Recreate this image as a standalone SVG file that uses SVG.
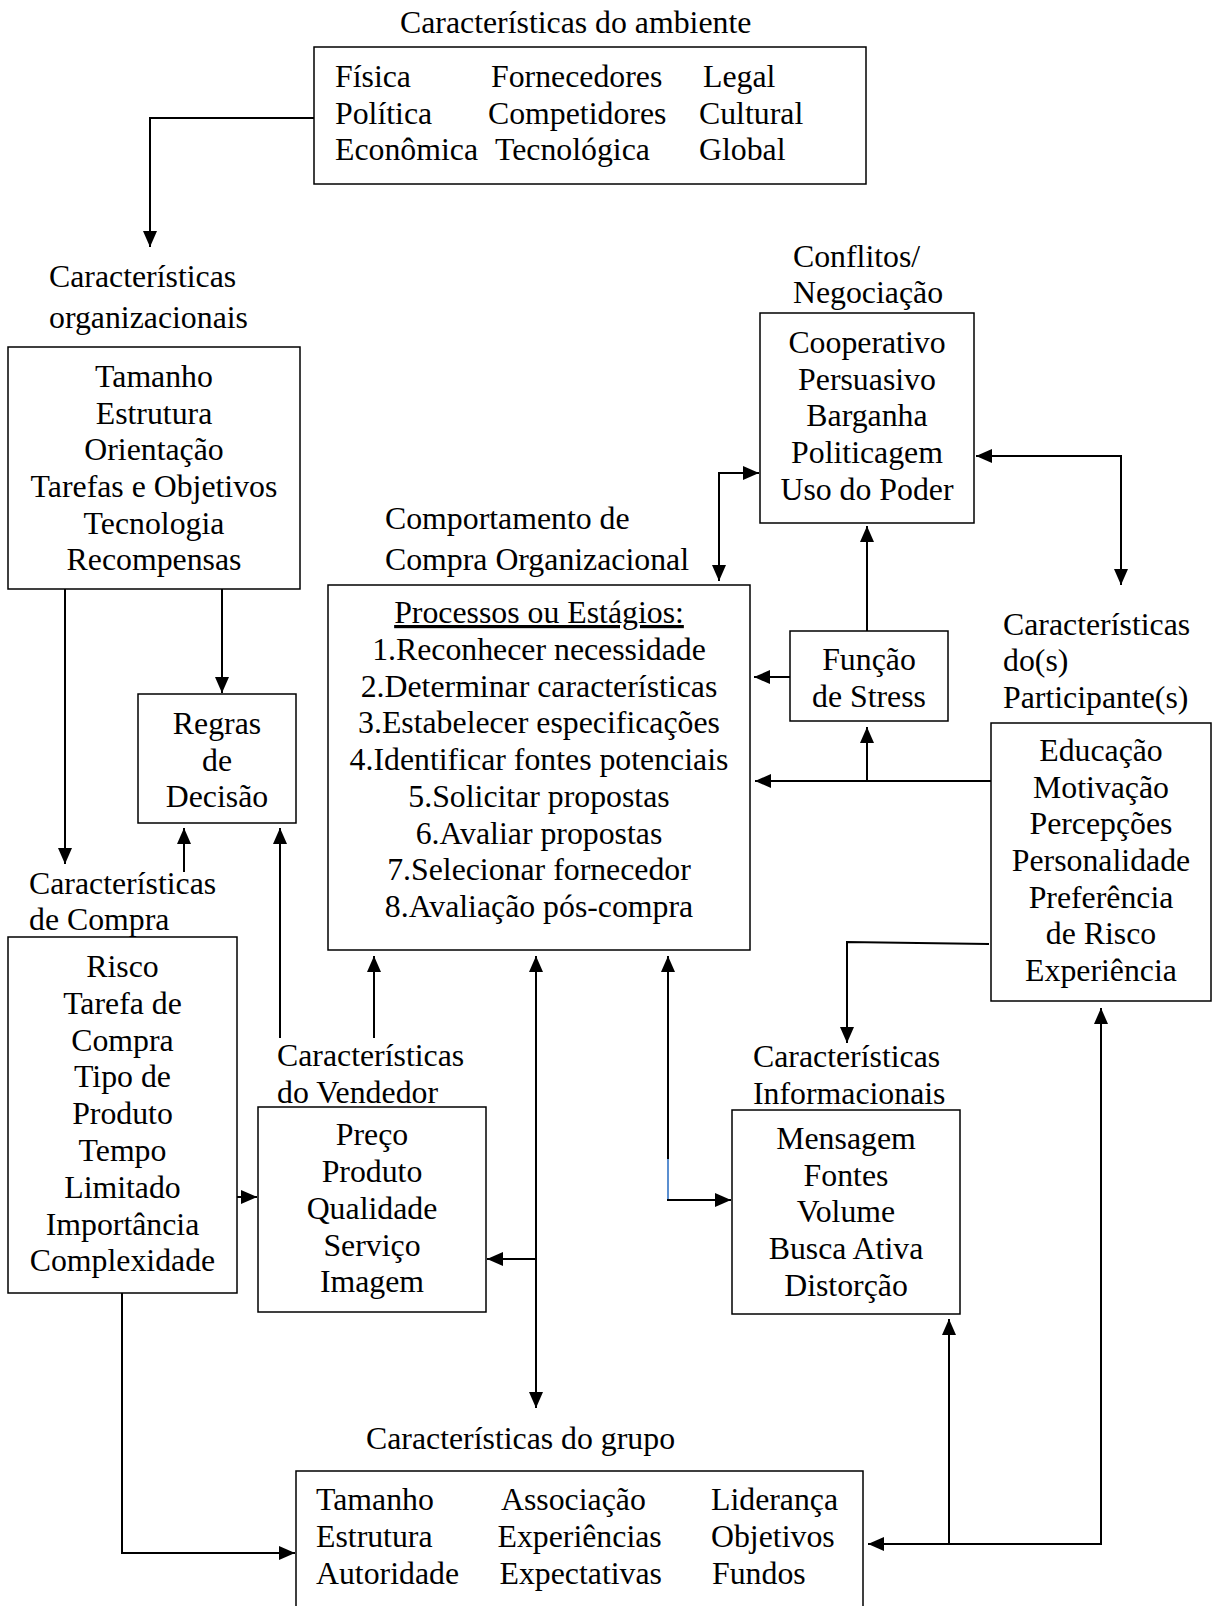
<svg xmlns="http://www.w3.org/2000/svg" width="1212" height="1606" viewBox="0 0 1212 1606">
<style>
.t{font-family:"Liberation Serif","Times New Roman",serif;font-size:31.8px;fill:#000}
.c{text-anchor:middle}
.box{fill:none;stroke:#000;stroke-width:1.5}
.ln{fill:none;stroke:#000;stroke-width:2}
</style>
<defs>
<marker id="ah" markerWidth="16" markerHeight="14" refX="16" refY="7" orient="auto-start-reverse" markerUnits="userSpaceOnUse"><path d="M0,0 L16,7 L0,14 z" fill="#000"/></marker>
</defs>
<rect width="1212" height="1606" fill="#fff"/>

<g id="ambiente">
<text class="t" x="400" y="33">Características do ambiente</text>
<rect class="box" x="314" y="47" width="552" height="137"/>
<text class="t" x="335" y="87">Física</text>
<text class="t" x="335" y="124">Política</text>
<text class="t" x="335" y="160">Econômica</text>
<text class="t" x="491" y="87">Fornecedores</text>
<text class="t" x="488" y="124">Competidores</text>
<text class="t" x="495" y="160">Tecnológica</text>
<text class="t" x="703" y="87">Legal</text>
<text class="t" x="699" y="124">Cultural</text>
<text class="t" x="699" y="160">Global</text>
</g>

<g id="organizacionais">
<text class="t" x="49" y="287">Características</text>
<text class="t" x="49" y="328">organizacionais</text>
<rect class="box" x="8" y="347" width="292" height="242"/>
<text class="t c" x="154" y="387">Tamanho</text>
<text class="t c" x="154" y="424">Estrutura</text>
<text class="t c" x="154" y="460">Orientação</text>
<text class="t c" x="154" y="497">Tarefas e Objetivos</text>
<text class="t c" x="154" y="534">Tecnologia</text>
<text class="t c" x="154" y="570">Recompensas</text>
</g>

<g id="regras">
<rect class="box" x="138" y="694" width="158" height="129"/>
<text class="t c" x="217" y="734">Regras</text>
<text class="t c" x="217" y="771">de</text>
<text class="t c" x="217" y="807">Decisão</text>
</g>

<g id="comportamento">
<text class="t" x="385" y="529">Comportamento de</text>
<text class="t" x="385" y="570">Compra Organizacional</text>
<rect class="box" x="328" y="585" width="422" height="365"/>
<text class="t c" x="539" y="623" text-decoration="underline">Processos ou Estágios:</text>
<text class="t c" x="539" y="660">1.Reconhecer necessidade</text>
<text class="t c" x="539" y="697">2.Determinar características</text>
<text class="t c" x="539" y="733">3.Estabelecer especificações</text>
<text class="t c" x="539" y="770">4.Identificar fontes potenciais</text>
<text class="t c" x="539" y="807">5.Solicitar propostas</text>
<text class="t c" x="539" y="844">6.Avaliar propostas</text>
<text class="t c" x="539" y="880">7.Selecionar fornecedor</text>
<text class="t c" x="539" y="917">8.Avaliação pós-compra</text>
</g>

<g id="conflitos">
<text class="t" x="793" y="267">Conflitos/</text>
<text class="t" x="793" y="303">Negociação</text>
<rect class="box" x="760" y="313" width="214" height="210"/>
<text class="t c" x="867" y="353">Cooperativo</text>
<text class="t c" x="867" y="390">Persuasivo</text>
<text class="t c" x="867" y="426">Barganha</text>
<text class="t c" x="867" y="463">Politicagem</text>
<text class="t c" x="867" y="500">Uso do Poder</text>
</g>

<g id="stress">
<rect class="box" x="790" y="631" width="158" height="90"/>
<text class="t c" x="869" y="670">Função</text>
<text class="t c" x="869" y="707">de Stress</text>
</g>

<g id="participantes">
<text class="t" x="1003" y="635">Características</text>
<text class="t" x="1003" y="671">do(s)</text>
<text class="t" x="1003" y="708">Participante(s)</text>
<rect class="box" x="991" y="723" width="220" height="278"/>
<text class="t c" x="1101" y="761">Educação</text>
<text class="t c" x="1101" y="798">Motivação</text>
<text class="t c" x="1101" y="834">Percepções</text>
<text class="t c" x="1101" y="871">Personalidade</text>
<text class="t c" x="1101" y="908">Preferência</text>
<text class="t c" x="1101" y="944">de Risco</text>
<text class="t c" x="1101" y="981">Experiência</text>
</g>

<g id="compra">
<text class="t" x="29" y="894">Características</text>
<text class="t" x="29" y="930">de Compra</text>
<rect class="box" x="8" y="937" width="229" height="356"/>
<text class="t c" x="122.5" y="977">Risco</text>
<text class="t c" x="122.5" y="1014">Tarefa de</text>
<text class="t c" x="122.5" y="1051">Compra</text>
<text class="t c" x="122.5" y="1087">Tipo de</text>
<text class="t c" x="122.5" y="1124">Produto</text>
<text class="t c" x="122.5" y="1161">Tempo</text>
<text class="t c" x="122.5" y="1198">Limitado</text>
<text class="t c" x="122.5" y="1235">Importância</text>
<text class="t c" x="122.5" y="1271">Complexidade</text>
</g>

<g id="vendedor">
<text class="t" x="277" y="1066">Características</text>
<text class="t" x="277" y="1103">do Vendedor</text>
<rect class="box" x="258" y="1107" width="228" height="205"/>
<text class="t c" x="372" y="1145">Preço</text>
<text class="t c" x="372" y="1182">Produto</text>
<text class="t c" x="372" y="1219">Qualidade</text>
<text class="t c" x="372" y="1256">Serviço</text>
<text class="t c" x="372" y="1292">Imagem</text>
</g>

<g id="informacionais">
<text class="t" x="753" y="1067">Características</text>
<text class="t" x="753" y="1104">Informacionais</text>
<rect class="box" x="732" y="1110" width="228" height="204"/>
<text class="t c" x="846" y="1149">Mensagem</text>
<text class="t c" x="846" y="1186">Fontes</text>
<text class="t c" x="846" y="1222">Volume</text>
<text class="t c" x="846" y="1259">Busca Ativa</text>
<text class="t c" x="846" y="1296">Distorção</text>
</g>

<g id="grupo">
<text class="t" x="366" y="1449">Características do grupo</text>
<rect class="box" x="296" y="1471" width="567" height="150"/>
<text class="t" x="316" y="1510">Tamanho</text>
<text class="t" x="316" y="1547">Estrutura</text>
<text class="t" x="316" y="1584">Autoridade</text>
<text class="t" x="501" y="1510">Associação</text>
<text class="t" x="497.5" y="1547">Experiências</text>
<text class="t" x="499.5" y="1584">Expectativas</text>
<text class="t" x="711" y="1510">Liderança</text>
<text class="t" x="711" y="1547">Objetivos</text>
<text class="t" x="712" y="1584">Fundos</text>
</g>

<g id="connectors">
<path class="ln" d="M314,118 H150 V247" marker-end="url(#ah)"/>
<path class="ln" d="M65,589 V864" marker-end="url(#ah)"/>
<path class="ln" d="M222,589 V693" marker-end="url(#ah)"/>
<path class="ln" d="M184,872 V828" marker-end="url(#ah)"/>
<path class="ln" d="M280,1038 V828" marker-end="url(#ah)"/>
<path class="ln" d="M374,1038 V956" marker-end="url(#ah)"/>
<path class="ln" d="M237,1197 H257" marker-end="url(#ah)"/>
<path class="ln" d="M536,956 V1408" marker-start="url(#ah)" marker-end="url(#ah)"/>
<path class="ln" d="M536,1259 H487" marker-end="url(#ah)"/>
<path class="ln" d="M122,1293 V1553 H295" marker-end="url(#ah)"/>
<path class="ln" d="M668,956 V1200 H731" marker-start="url(#ah)" marker-end="url(#ah)"/>
<path d="M668,1159 V1199" fill="none" stroke="#5b8fd0" stroke-width="2"/>
<path class="ln" d="M759,473 H719 V581" marker-start="url(#ah)" marker-end="url(#ah)"/>
<path class="ln" d="M976,456 H1121 V585" marker-start="url(#ah)" marker-end="url(#ah)"/>
<path class="ln" d="M867,631 V526" marker-end="url(#ah)"/>
<path class="ln" d="M790,677 H754" marker-end="url(#ah)"/>
<path class="ln" d="M991,781 H755" marker-end="url(#ah)"/>
<path class="ln" d="M867,781 V727" marker-end="url(#ah)"/>
<path class="ln" d="M989,944 L847,942 V1043" marker-end="url(#ah)"/>
<path class="ln" d="M1101,1543 V1008" marker-end="url(#ah)"/>
<path class="ln" d="M949,1543 V1319" marker-end="url(#ah)"/>
<path class="ln" d="M1102,1544 H868" marker-end="url(#ah)"/>
</g>
</svg>
